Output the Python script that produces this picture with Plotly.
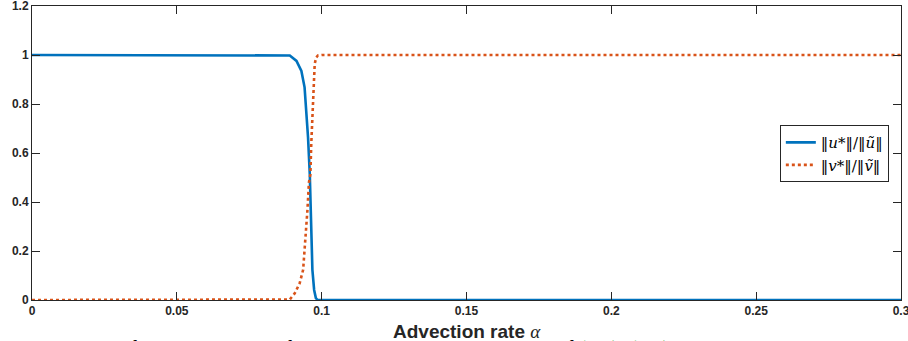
import plotly.graph_objects as go

# Advection rate sample points and normalised norms
alpha_u = [0.0, 0.05, 0.085, 0.089, 0.0913, 0.093, 0.0941, 0.0947, 0.0953, 0.0959,
           0.0964, 0.0968, 0.0974, 0.0980, 0.0986, 0.1, 0.15, 0.2, 0.25, 0.3]
u_ratio = [1.0, 1.0, 1.0, 0.998, 0.976, 0.935, 0.868, 0.771, 0.663, 0.512,
           0.328, 0.123, 0.041, 0.008, 0.0, 0.0, 0.0, 0.0, 0.0, 0.0]

alpha_v = [0.0, 0.05, 0.085, 0.089, 0.0907, 0.0924, 0.0936, 0.0945, 0.0951, 0.0956,
           0.0961, 0.0964, 0.0968, 0.0971, 0.0976, 0.0981, 0.0987, 0.1, 0.15, 0.2, 0.25, 0.3]
v_ratio = [0.0, 0.0, 0.0, 0.002, 0.027, 0.068, 0.123, 0.26, 0.369, 0.48,
           0.512, 0.635, 0.771, 0.88, 0.963, 0.99, 0.998, 1.0, 1.0, 1.0, 1.0, 1.0]

x_ticks = [0, 0.05, 0.1, 0.15, 0.2, 0.25, 0.3]
x_tick_labels = ["0", "0.05", "0.1", "0.15", "0.2", "0.25", "0.3"]
y_ticks = [0, 0.2, 0.4, 0.6, 0.8, 1.0, 1.2]
y_tick_labels = ["0", "0.2", "0.4", "0.6", "0.8", "1", "1.2"]

name_u = "‖<i>u</i>*‖/‖<i>ũ</i>‖"
name_v = "‖<i>v</i>*‖/‖<i>ṽ</i>‖"
x_label = "Advection rate <span style='font-family:Liberation Serif;font-weight:normal'><i>α</i></span>"
caption = ("F<span style='font-size:16px'>IG</span>. 3.  A bifurcation diagram for the normalized steady states of "
           "<span style='color:#1a9a1a'>(1.1)</span>–<span style='color:#1a9a1a'>(1.4)</span>.  "
           "The blue curve represents the")

fig = go.Figure()
fig.add_trace(go.Scatter(x=alpha_u, y=u_ratio, mode="lines", name=name_u,
                         line=dict(color="#0072BD", width=2.6)))
fig.add_trace(go.Scatter(x=alpha_v, y=v_ratio, mode="lines", name=name_v,
                         line=dict(color="#D95319", width=2.6, dash="dot")))

axis_common = dict(
    showgrid=False, zeroline=False, showline=True, linecolor="#262626", linewidth=1,
    mirror="ticks", ticks="inside", ticklen=8, tickcolor="#262626", tickwidth=1,
    ticklabeloverflow="allow", automargin=False,
    tickfont=dict(family="Liberation Sans, Arial, sans-serif", size=12, color="#262626", weight="bold"),
)
fig.update_xaxes(range=[0, 0.3], tickvals=x_ticks, ticktext=x_tick_labels, **axis_common)
fig.update_yaxes(range=[0, 1.2], tickvals=y_ticks, ticktext=y_tick_labels, **axis_common)

fig.add_annotation(text=x_label, xref="paper", yref="paper", x=0.5, y=-0.107,
                   xanchor="center", yanchor="middle", showarrow=False,
                   font=dict(family="Liberation Sans, Arial, sans-serif", size=19,
                             color="#262626", weight="bold"))
fig.add_annotation(text=caption, xref="paper", yref="paper", x=-0.005, y=-0.114,
                   xanchor="left", yanchor="top", showarrow=False,
                   font=dict(family="Liberation Serif, serif", size=21, color="#000000"))

fig.update_layout(
    width=908, height=341,
    margin=dict(l=32, r=7, t=6, b=41),
    paper_bgcolor="white", plot_bgcolor="white",
    legend=dict(x=0.986, y=0.498, xanchor="right", yanchor="middle",
                bgcolor="white", bordercolor="#262626", borderwidth=1,
                font=dict(family="DejaVu Serif, serif", size=15, color="#000000"),
                itemwidth=30, tracegroupgap=0),
    showlegend=True,
)

fig.write_html("out.html", config={"displayModeBar": False, "responsive": False},
               post_script="document.body.style.margin='0';")
